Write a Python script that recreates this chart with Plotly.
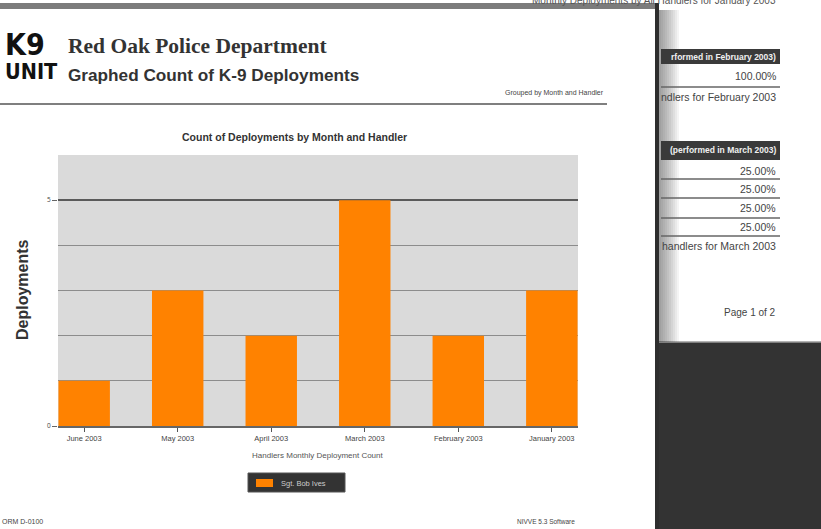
import plotly.graph_objects as go

months = ["June 2003", "May 2003", "April 2003", "March 2003", "February 2003", "January 2003"]
deployments = [1, 3, 2, 5, 2, 3]
handler = "Sgt. Bob Ives"
y_tick_vals = [0, 5]
y_tick_text = ["0", "5"]
march_rows = ["25.00%", "25.00%", "25.00%", "25.00%"]

W, H = 821, 529
L, R, T, B = 58, 578, 155, 426


def px(x):
    return (x - L) / (R - L)


def py(y):
    return (B - y) / (B - T)


fig = go.Figure()
fig.add_trace(go.Bar(
    x=months, y=deployments, name=handler,
    marker=dict(color="#FF8200", line=dict(width=0)),
    width=0.55, showlegend=False,
))

shapes = []
ann = []


def rect(x0, y0, x1, y1, color, opacity=1.0, line=None):
    d = dict(type="rect", xref="paper", yref="paper",
             x0=px(x0), x1=px(x1), y0=py(y0), y1=py(y1),
             fillcolor=color, opacity=opacity, line=dict(width=0))
    if line:
        d["line"] = line
    shapes.append(d)


def hline(x0, x1, y, color, width=1):
    shapes.append(dict(type="line", xref="paper", yref="paper",
                       x0=px(x0), x1=px(x1), y0=py(y), y1=py(y),
                       line=dict(color=color, width=width)))


def text(x, y, s, size, color="#222", family="Liberation Sans", xanchor="left", bold=False, **kw):
    if bold:
        s = "<b>" + s + "</b>"
    ann.append(dict(xref="paper", yref="paper", x=px(x), y=py(y), text=s,
                    showarrow=False, xanchor=xanchor, yanchor="middle",
                    font=dict(size=size, color=color, family=family), **kw))


# background page on the right
rect(659, 342, 821, 529, "#333333")
hline(659, 821, 342, "#9a9a9a", 1.5)
# shadow of front page (stacked overlapping rects -> smooth gradient)
for i in range(1, 11):
    rect(659, 10, 659 + 2 * i, 342, "#000000", 0.045)
# front page borders
rect(0, 3, 659, 9, "#7c7c7c")
rect(655, 3, 659, 529, "#2e2e2e")

# behind-page table
text(778, 1, "Monthly Deployments by All Handlers for January 2003", 10, "#555", xanchor="right")
rect(661, 49, 780, 64, "#3a3a3a")
text(778, 57, "rformed in February 2003)", 8.5, "#f0f0f0", xanchor="right", bold=True)
text(778, 76, "100.00%", 10.5, "#444", xanchor="right")
hline(661, 780, 87, "#666", 1.5)
text(778, 97, "ndlers for February 2003", 10.5, "#444", xanchor="right")
rect(661, 141, 780, 160, "#3a3a3a")
text(778, 150, "(performed in March 2003)", 8.5, "#f0f0f0", xanchor="right", bold=True)
row_y = [171, 189, 208, 227]
line_y = [179, 198, 218, 236]
for s, ry, ly in zip(march_rows, row_y, line_y):
    text(778, ry, s, 10.5, "#444", xanchor="right")
    hline(661, 780, ly, "#666", 1.5)
text(778, 246, "handlers for March 2003", 10.5, "#444", xanchor="right")
text(778, 312, "Page 1 of 2", 10, "#444", xanchor="right")

# header
cond = "DejaVu Sans Condensed, Liberation Sans Narrow, DejaVu Sans"
text(3, 45, "K9", 30, "#111", family=cond, bold=True)
text(3, 72, "UNIT", 21.5, "#111", family=cond, bold=True)
text(66, 46, "Red Oak Police Department", 21.5, "#333", family="Liberation Serif", bold=True)
text(66, 75, "Graphed Count of K-9 Deployments", 17.2, "#333", bold=True)
text(606, 93, "Grouped by Month and Handler", 7, "#444", xanchor="right")
hline(0, 607, 104, "#555", 1.5)

# chart texts
text(294, 137, "Count of Deployments by Month and Handler", 10.5, "#333", xanchor="center", bold=True)
text(22, 290, "Deployments", 16, "#333", xanchor="center", bold=True, textangle=-90)
text(318, 455, "Handlers Monthly Deployment Count", 8, "#555", xanchor="center")

# legend (drawn box)
rect(248, 473, 345, 492, "#333333", line=dict(color="#555", width=1))
rect(256, 479, 273, 487, "#FF8200")
text(279, 483, handler, 7.5, "#ccc")

# footer
text(0, 521, "ORM D-0100", 7, "#444")
text(577, 521, "NIVVE 5.3 Software", 6.5, "#444", xanchor="right")

fig.update_layout(
    width=W, height=H,
    margin=dict(l=L, r=W - R, t=T, b=H - B, pad=0),
    paper_bgcolor="white",
    plot_bgcolor="#DADADA",
    bargap=0.45,
    shapes=shapes,
    annotations=ann,
    showlegend=False,
    xaxis=dict(
        type="category", range=[-0.28, 5.28], showgrid=False,
        ticks="outside", ticklen=4, tickcolor="#555",
        tickfont=dict(size=7.5, color="#444", family="Liberation Sans"),
        showline=True, linecolor="#666", linewidth=1.5,
        fixedrange=True,
    ),
    yaxis=dict(
        range=[0, 6], tickmode="array", tickvals=y_tick_vals, ticktext=y_tick_text,
        ticks="outside", ticklen=5, tickcolor="#666",
        tickfont=dict(size=6.5, color="#444"),
        showgrid=True, gridcolor="#5a5a5a", gridwidth=1.5,
        zeroline=False,
        minor=dict(dtick=1, tick0=0, showgrid=True, gridcolor="#8c8c8c", gridwidth=1),
        fixedrange=True,
    ),
)

fig.write_html(
    "out.html",
    config={"displayModeBar": False},
    post_script="document.body.style.margin='0';document.body.style.overflow='hidden';",
)
